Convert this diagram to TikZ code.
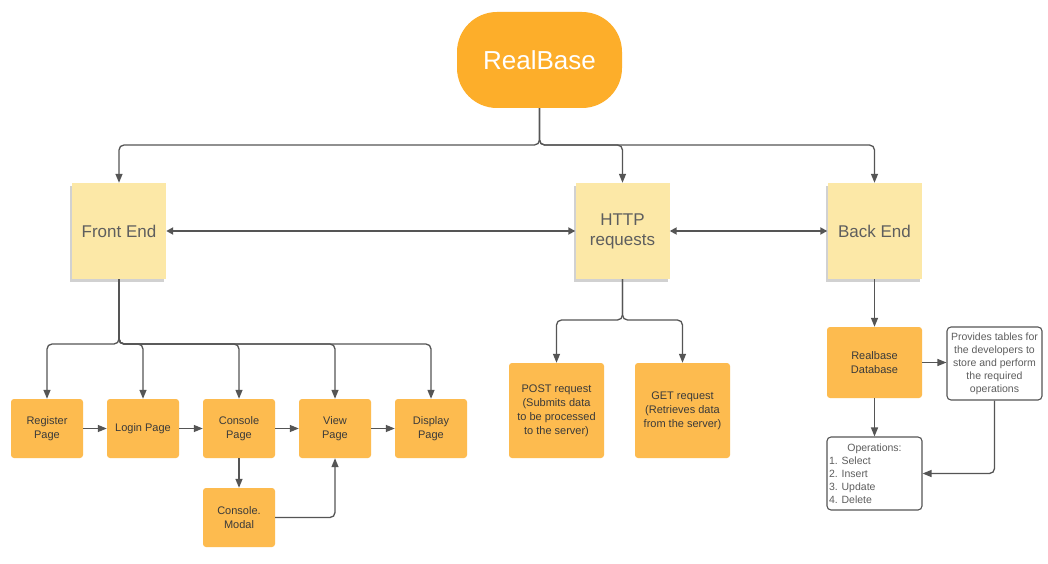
\documentclass[tikz,border=0pt]{standalone}
\usepackage{fontspec}
\setmainfont{Liberation Sans}
\usetikzlibrary{arrows.meta,shadows}
\definecolor{rbor}{HTML}{FDAE2A}
\definecolor{boxor}{HTML}{FDBB4F}
\definecolor{sticky}{HTML}{FCE8A7}
\definecolor{ln}{HTML}{555555}
\definecolor{txt}{HTML}{3A3A3A}
\definecolor{gtxt}{HTML}{5E5E5E}
\tikzset{
  arr/.style={draw=ln, line width=1.3pt, -{Triangle[length=9pt,width=7pt]}, rounded corners=5pt},
  darr/.style={draw=ln, line width=1.8pt, {Triangle[length=7pt,width=7pt]}-{Triangle[length=7pt,width=7pt]}},
  stickybox/.style={fill=sticky, minimum width=94pt, minimum height=96pt, inner sep=2pt,
     font=\fontsize{17}{20}\selectfont, text=gtxt, align=center,
     drop shadow={shadow xshift=-2pt, shadow yshift=-3pt, opacity=0.18, fill=black}},
  pagebox/.style={fill=boxor, rounded corners=3pt, minimum width=72pt, minimum height=59pt,
     inner sep=1pt, font=\fontsize{11}{14}\selectfont, text=txt, align=center},
  bigbox/.style={pagebox, minimum width=95pt, minimum height=95pt},
  notebox/.style={draw=ln, line width=1.1pt, fill=white, rounded corners=4pt, minimum width=95pt,
     minimum height=73pt, inner sep=2pt, font=\fontsize{10.5}{13}\selectfont, text=gtxt}
}
\begin{document}
\begin{tikzpicture}[x=1pt,y=-1pt]
\useasboundingbox (0,0) rectangle (1048,564);
\fill[white] (0,0) rectangle (1048,564);
% top
\node[fill=rbor, rounded corners=40pt, minimum width=165pt, minimum height=96pt,
  font=\fontsize{26}{30}\selectfont, text=white] (rb) at (539.5,60) {RealBase};
\node[stickybox] (fe) at (119,231) {Front End};
\node[stickybox] (http) at (622.5,231) {HTTP\\requests};
\node[stickybox] (be) at (874.5,231) {Back End};
\coordinate (j1) at (539.5,145);
\draw[arr] (rb.south) -- (j1) -| (fe.north);
\draw[arr] (rb.south) -- (j1) -| (http.north);
\draw[arr] (rb.south) -- (j1) -| (be.north);
\draw[darr] (fe.east) -- (http.west);
\draw[darr] (http.east) -- (be.west);
% front end pages
\node[pagebox] (reg) at (47,428.5) {Register\\Page};
\node[pagebox] (login) at (143,428.5) {Login Page};
\node[pagebox] (cons) at (239,428.5) {Console\\Page};
\node[pagebox] (view) at (335,428.5) {View\\Page};
\node[pagebox] (disp) at (431,428.5) {Display\\Page};
\node[pagebox] (modal) at (239,517.5) {Console.\\Modal};
\coordinate (j2) at (119,344);
\foreach \n in {reg,login,cons,view,disp}{
  \draw[arr] (fe.south) -- (j2) -| (\n.north);
}
\draw[arr] (reg.east) -- (login.west);
\draw[arr] (login.east) -- (cons.west);
\draw[arr] (cons.east) -- (view.west);
\draw[arr] (view.east) -- (disp.west);
\draw[arr] (cons.south) -- (modal.north);
\draw[arr] (modal.east) -| (view.south);
% http
\node[bigbox] (post) at (556.5,410.5) {POST request\\(Submits data\\to be processed\\to the server)};
\node[bigbox] (get) at (682.5,410.5) {GET request\\(Retrieves data\\from the server)};
\coordinate (j3) at (622.5,320);
\draw[arr] (http.south) -- (j3) -| (post.north);
\draw[arr] (http.south) -- (j3) -| (get.north);
% back end
\node[pagebox, minimum width=95pt, minimum height=71pt] (db) at (874.5,362.5) {Realbase\\Database};
\node[notebox, align=center] (prov) at (994.5,363.5) {Provides tables for\\the developers to\\store and perform\\the required\\operations};
\node[notebox, inner sep=1pt] (ops) at (874.5,473.5)
  {\parbox{91pt}{\centering Operations:\par\raggedright 1. Select\\2. Insert\\3. Update\\4. Delete\par}};
\draw[arr] (be.south) -- (db.north);
\draw[arr] (db.east) -- (db.east -| prov.west);
\draw[arr] (db.south) -- (ops.north);
\draw[arr] (prov.south) |- (ops.east);
\end{tikzpicture}
\end{document}
